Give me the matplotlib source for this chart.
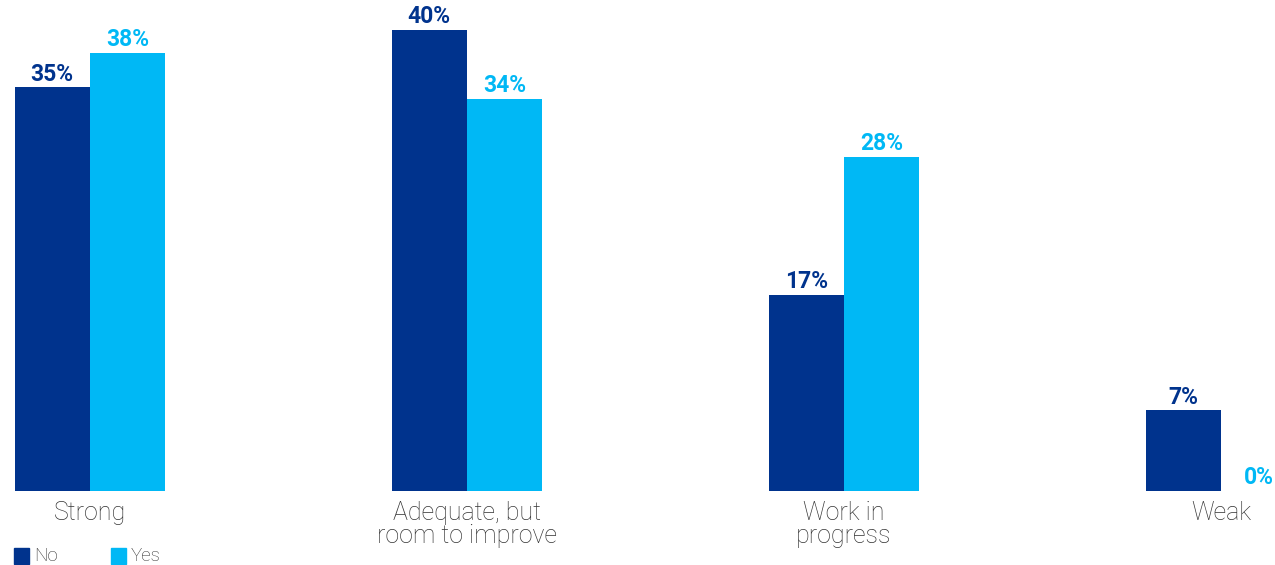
import matplotlib
matplotlib.use("Agg")
import matplotlib.pyplot as plt
from matplotlib.patches import Rectangle
import numpy as np

categories = ["Strong", "Adequate, but\nroom to improve", "Work in\nprogress", "Weak"]
series_names = ["No", "Yes"]
no_values = [35, 40, 17, 7]
yes_values = [38, 34, 29, 0]
no_labels = ["35%", "40%", "17%", "7%"]
yes_labels = ["38%", "34%", "28%", "0%"]

colors = ["#00338D", "#00B8F5"]
text_gray = "#333333"

W, H = 1275, 565
fig = plt.figure(figsize=(W / 100, H / 100), dpi=100)
base_px = 491
ax = fig.add_axes([0, (H - base_px) / H, 1, base_px / H])
px_per_unit = 377
x0 = 90
ax.set_xlim(-x0 / px_per_unit, (W - x0) / px_per_unit)
ax.set_ylim(0, base_px / 11.53)
ax.axis("off")

x = np.arange(len(categories))
bw = 0.2
for vals, labs, off, c in [(no_values, no_labels, -bw / 2, colors[0]),
                           (yes_values, yes_labels, bw / 2, colors[1])]:
    ax.bar(x + off, vals, width=bw, color=c)
    for xi, v, lab in zip(x + off, vals, labs):
        ax.text(xi, v + 0.15, lab, ha="center", va="bottom", color=c,
                fontsize=16.5, fontweight="bold", family="Roboto", clip_on=False)

for xi, cat in zip(x, categories):
    ax.text(xi, -0.85, cat, ha="center", va="top", color=text_gray, fontsize=18,
            family="Roboto", fontweight="light", linespacing=0.95, clip_on=False)

# legend
lx = [14, 111]
for i, name in enumerate(series_names):
    fig.patches.append(Rectangle((lx[i] / W, (H - 564) / H), 15 / W, 16 / H,
                                 transform=fig.transFigure, color=colors[i]))
    fig.text((lx[i] + 20) / W, (H - 556) / H, name, ha="left", va="center",
             fontsize=13.5, color=text_gray, family="Roboto", fontweight="light")

fig.savefig("out.png", dpi=100)
